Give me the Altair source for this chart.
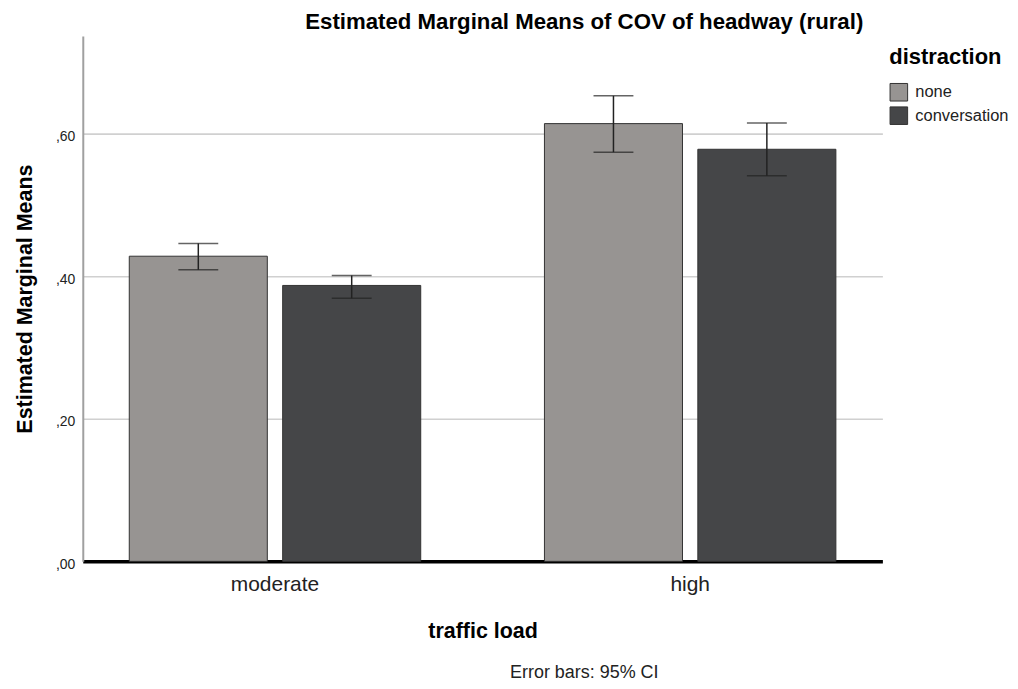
import altair as alt
import pandas as pd

traffic = ["moderate", "moderate", "high", "high"]
distraction = ["none", "conversation", "none", "conversation"]
means = [0.428, 0.387, 0.614, 0.578]
ci_low = [0.409, 0.369, 0.574, 0.541]
ci_high = [0.446, 0.401, 0.653, 0.615]
traffic_order = ["moderate", "high"]
distraction_order = ["none", "conversation"]
colors = ["#979492", "#454648"]
y_ticks = [0.0, 0.2, 0.4, 0.6]
note = ["Error bars: 95% CI"]

df = pd.DataFrame({
    "traffic load": traffic,
    "distraction": distraction,
    "mean": means,
    "lo": ci_low,
    "hi": ci_high,
})

FONT = "Liberation Sans"

x_enc = alt.X(
    "traffic load:N",
    sort=traffic_order,
    scale=alt.Scale(paddingInner=0.298, paddingOuter=0.112),
    axis=alt.Axis(
        title="traffic load",
        titleFontSize=21.5,
        titleFontWeight="bold",
        titleFont=FONT,
        titleColor="black",
        titlePadding=26,
        labelFontSize=21,
        labelFont=FONT,
        labelColor="#222222",
        labelPadding=12,
        labelAngle=0,
        ticks=False,
        domainColor="black",
        domainWidth=3.5,
        grid=False,
    ),
)
xoff = alt.XOffset(
    "distraction:N",
    sort=distraction_order,
    scale=alt.Scale(paddingInner=0.1, paddingOuter=0),
)
y_scale = alt.Scale(domain=[0, 0.737], nice=False, zero=True)

base = alt.Chart(df)

bars = base.mark_bar(stroke="#333333", strokeWidth=1).encode(
    x=x_enc,
    xOffset=xoff,
    y=alt.Y(
        "mean:Q",
        scale=y_scale,
        axis=alt.Axis(
            title="Estimated Marginal Means",
            titleFontSize=21.5,
            titleFontWeight="bold",
            titleFont=FONT,
            titleColor="black",
            titlePadding=19,
            values=y_ticks,
            labelExpr="',' + substring(format(datum.value, '.2f'), 2)",
            labelFontSize=14,
            labelFont=FONT,
            labelColor="#222222",
            labelPadding=8,
            labelOffset=3,
            ticks=False,
            domainColor="#a0a0a0",
            domainWidth=2,
            grid=True,
            gridColor="#d0d0d0",
            gridWidth=1.6,
        ),
    ),
    color=alt.Color(
        "distraction:N",
        sort=distraction_order,
        scale=alt.Scale(domain=distraction_order, range=colors),
        legend=alt.Legend(
            title="distraction",
            orient="none",
            legendX=809,
            legendY=11,
            titleFontSize=22,
            titleFontWeight="bold",
            titleFont=FONT,
            titleColor="black",
            titlePadding=14,
            labelFontSize=16.5,
            labelFont=FONT,
            labelColor="#222222",
            labelOffset=7,
            symbolType="square",
            symbolSize=310,
            symbolStrokeColor="#333333",
            symbolStrokeWidth=1,
            symbolOpacity=1,
            rowPadding=0.5,
        ),
    ),
)

stems = base.mark_rule(color="#222222", strokeWidth=1.5).encode(
    x=alt.X("traffic load:N", sort=traffic_order),
    xOffset=xoff,
    y=alt.Y("lo:Q", scale=y_scale),
    y2="hi:Q",
)
caps_lo = base.mark_tick(color="#222222", thickness=1.5, size=40).encode(
    x=alt.X("traffic load:N", sort=traffic_order),
    xOffset=xoff,
    y=alt.Y("lo:Q", scale=y_scale),
)
caps_hi = base.mark_tick(color="#222222", thickness=1.5, size=40).encode(
    x=alt.X("traffic load:N", sort=traffic_order),
    xOffset=xoff,
    y=alt.Y("hi:Q", scale=y_scale),
)

note_layer = alt.Chart(pd.DataFrame({"t": note})).mark_text(
    font=FONT, fontSize=18, color="#222222", align="center", baseline="middle"
).encode(x=alt.value(503), y=alt.value(639), text="t:N")

chart = alt.layer(bars, stems, caps_lo, caps_hi, note_layer).properties(
    width=802,
    height=527,
    background="white",
    title=alt.TitleParams(
        "Estimated Marginal Means of COV of headway (rural)",
        fontSize=22.3,
        fontWeight="bold",
        font=FONT,
        color="black",
        anchor="middle",
        dx=102,
        offset=3,
    ),
    autosize=alt.AutoSizeParams(type="none"),
    padding={"left": 75, "top": 27, "right": 128, "bottom": 119},
).configure_view(strokeWidth=0, stroke=None)

chart.save("out.html", embed_options={"renderer": "svg", "actions": False})
